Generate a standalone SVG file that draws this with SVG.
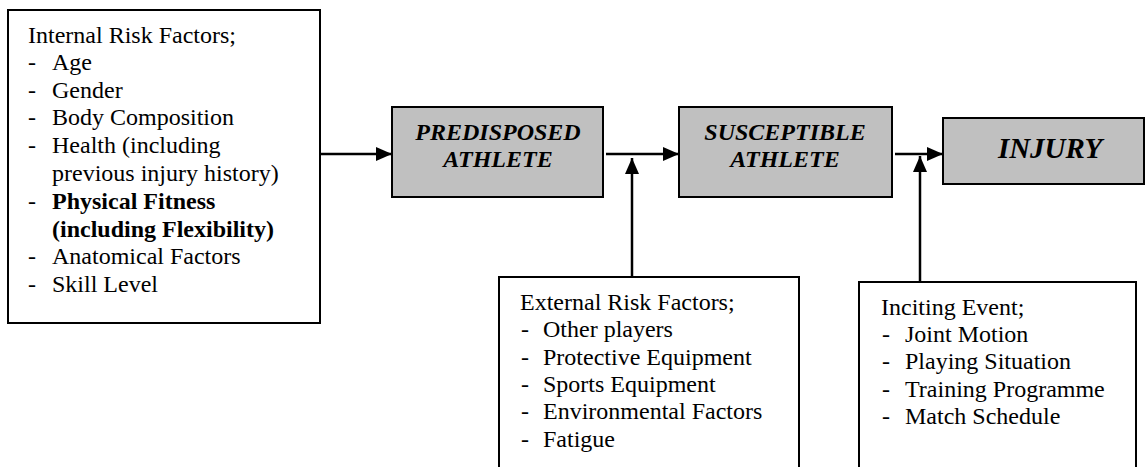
<svg xmlns="http://www.w3.org/2000/svg" width="1146" height="467" viewBox="0 0 1146 467">
<style>
.box{fill:#ffffff;stroke:#000;stroke-width:2}
.gbox{fill:#c0c0c0;stroke:#000;stroke-width:2}
text{font-family:'Liberation Serif','Times New Roman',serif;font-size:24px;fill:#000}
.b{font-weight:bold}
.bi{font-weight:bold;font-style:italic;text-anchor:middle}
.big{font-size:29px}
.con{stroke:#000;stroke-width:2.5;fill:none}
</style>
<defs>
<marker id="ah" viewBox="0 0 16 14" refX="16" refY="7" markerWidth="16" markerHeight="14" markerUnits="userSpaceOnUse" orient="auto">
<path d="M0,0 L16,7 L0,14 z" fill="#000"/>
</marker>
</defs>
<g id="internal">
<rect class="box" x="8" y="10" width="312" height="313"/>
<text x="28" y="43">Internal Risk Factors;</text>
<text x="28" y="70">-</text><text x="52" y="70">Age</text>
<text x="28" y="98">-</text><text x="52" y="98">Gender</text>
<text x="28" y="125">-</text><text x="52" y="125">Body Composition</text>
<text x="28" y="153">-</text><text x="52" y="153">Health (including</text>
<text x="52" y="181">previous injury history)</text>
<text x="28" y="209">-</text><text class="b" x="52" y="209">Physical Fitness</text>
<text class="b" x="52" y="237">(including Flexibility)</text>
<text x="28" y="264">-</text><text x="52" y="264">Anatomical Factors</text>
<text x="28" y="292">-</text><text x="52" y="292">Skill Level</text>
</g>
<g id="predisposed">
<rect class="gbox" x="392" y="107" width="211" height="90"/>
<text class="bi" x="498" y="140">PREDISPOSED</text>
<text class="bi" x="498" y="167">ATHLETE</text>
</g>
<g id="susceptible">
<rect class="gbox" x="679" y="107" width="213" height="90"/>
<text class="bi" x="785" y="140">SUSCEPTIBLE</text>
<text class="bi" x="785" y="167">ATHLETE</text>
</g>
<g id="injury">
<rect class="gbox" x="943" y="118" width="201" height="66"/>
<text class="bi big" x="1050" y="158">INJURY</text>
</g>
<g id="external">
<rect class="box" x="499" y="277" width="300" height="210"/>
<text x="520" y="310">External Risk Factors;</text>
<text x="521" y="337">-</text><text x="543" y="337">Other players</text>
<text x="521" y="365">-</text><text x="543" y="365">Protective Equipment</text>
<text x="521" y="392">-</text><text x="543" y="392">Sports Equipment</text>
<text x="521" y="419">-</text><text x="543" y="419">Environmental Factors</text>
<text x="521" y="447">-</text><text x="543" y="447">Fatigue</text>
</g>
<g id="inciting">
<rect class="box" x="859" y="282" width="277" height="205"/>
<text x="881" y="315">Inciting Event;</text>
<text x="882" y="342">-</text><text x="905" y="342">Joint Motion</text>
<text x="882" y="369">-</text><text x="905" y="369">Playing Situation</text>
<text x="882" y="397">-</text><text x="905" y="397">Training Programme</text>
<text x="882" y="424">-</text><text x="905" y="424">Match Schedule</text>
</g>
<g id="connectors">
<line class="con" x1="320" y1="154" x2="392" y2="154" marker-end="url(#ah)"/>
<line class="con" x1="606" y1="154" x2="679" y2="154" marker-end="url(#ah)"/>
<line class="con" x1="632" y1="277" x2="632" y2="158" marker-end="url(#ah)"/>
<line class="con" x1="895" y1="154" x2="943" y2="154" marker-end="url(#ah)"/>
<line class="con" x1="920" y1="282" x2="920" y2="156" marker-end="url(#ah)"/>
</g>
</svg>
